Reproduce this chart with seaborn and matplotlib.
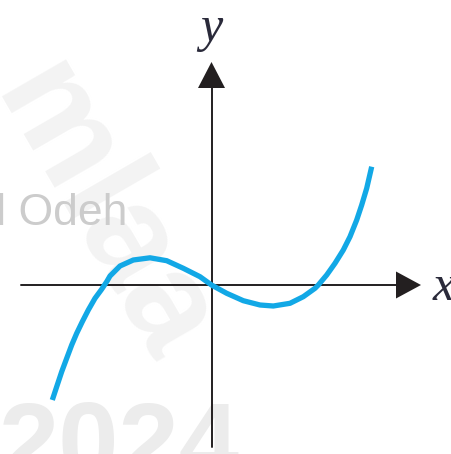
import numpy as np
import pandas as pd
import matplotlib.pyplot as plt
import seaborn as sns

# points (x right, y up, origin at the axes crossing)
curve_x = [-15.92, -15.48, -14.98, -14.48, -13.98, -13.48, -12.92, -12.32, -11.65, -11.0, -10.48,
           -10.15, -9.15, -7.82, -6.15, -4.48, -2.82, -1.15, 0.0,
           1.52, 3.18, 4.85, 6.18, 7.85, 9.18, 10.35,
           10.68, 11.52, 12.35, 13.18, 13.85, 14.52, 15.02, 15.52, 16.02]
curve_y = [-11.5, -10.17, -8.67, -7.33, -6.0, -4.83, -3.67, -2.5, -1.33, -0.45, 0.33,
           0.9, 1.9, 2.5, 2.72, 2.43, 1.67, 0.83, 0.0,
           -0.83, -1.57, -2.0, -2.1, -1.83, -1.17, -0.33,
           0.0, 1.0, 2.17, 3.5, 4.83, 6.5, 8.0, 9.67, 11.83]

x_label = "x"
y_label = "y"
wm_name = "Adil Odeh"
wm_year = "2024"
wm_big = "mlaa"

df = pd.DataFrame({"x": curve_x, "y": curve_y})

sns.set_theme(style="white")
plt.rcParams['font.family'] = ['Liberation Sans', 'DejaVu Sans']

fig = plt.figure(figsize=(4.51, 4.54), dpi=100)
ax = fig.add_axes([0, 0, 1, 1])
ax.set_xlim(-21.15, 23.95)
ax.set_ylim(-16.9, 28.5)
ax.axis("off")

# watermarks
ax.text(-11.0, 7.0, wm_big, rotation=-60, rotation_mode="anchor", ha="center", va="center",
        fontsize=100, fontweight="bold", color="#f3f3f3", zorder=0)
ax.text(-8.4, 6.0, wm_name, ha="right", va="baseline", fontsize=32, color="#cccccc", zorder=1)
ax.text(-21.3, -19.3, wm_year, ha="left", va="baseline", fontsize=78, fontweight="heavy",
        color="#ececec", zorder=0)

# axes with arrows
axis_col = "#231f20"
ax.plot([-19.05, 18.6], [0, 0], color=axis_col, lw=1.4, zorder=2)
ax.plot([0, 0], [-16.2, 19.8], color=axis_col, lw=1.4, zorder=2)
ax.fill([18.45, 20.95, 18.45], [1.35, 0, -1.35], color=axis_col, lw=0, zorder=2)
ax.fill([-1.35, 0, 1.35], [19.7, 22.3, 19.7], color=axis_col, lw=0, zorder=2)

sns.lineplot(data=df, x="x", y="y", sort=False, color="#12a8e6", lw=3.8, ax=ax, zorder=3,
             solid_capstyle="butt", solid_joinstyle="round")

ax.text(0.0, 25.6, y_label, ha="center", va="center", fontsize=36, style="italic",
        family="Liberation Serif", color="#2a2a3a")
ax.text(22.1, -0.3, x_label, ha="left", va="center", fontsize=36, style="italic",
        family="Liberation Serif", color="#2a2a3a")

fig.savefig("out.png", dpi=100)
